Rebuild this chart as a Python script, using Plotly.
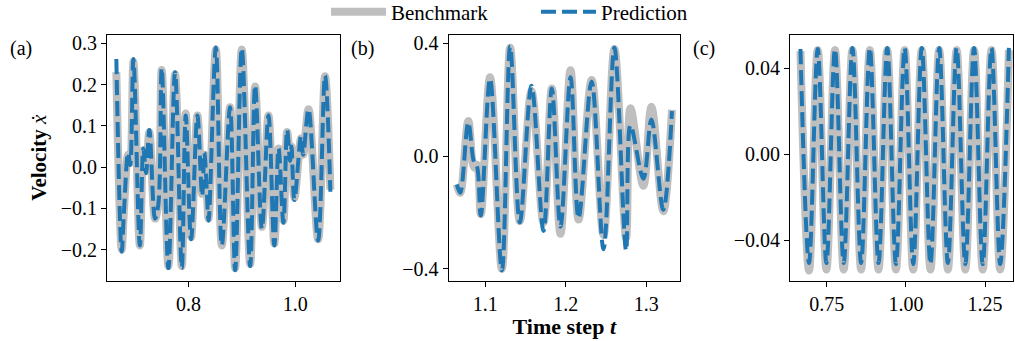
import plotly.graph_objects as go

# ---------------- data ----------------
# Panel (a)
t_a = [0.665, 0.675, 0.679, 0.687, 0.691, 0.697, 0.709, 0.7156, 0.7206, 0.7268,
       0.7375, 0.7437, 0.750, 0.7625, 0.775, 0.7876, 0.795, 0.805, 0.8169, 0.8257,
       0.830, 0.834, 0.8377, 0.8514, 0.8626, 0.878, 0.8876, 0.900, 0.9157, 0.925,
       0.9377, 0.950, 0.961, 0.969, 0.978, 0.985, 0.9906, 0.993, 0.9986, 1.011,
       1.015, 1.025, 1.043, 1.056, 1.066]
va_bench = [0.23, -0.20, -0.11, 0.03, 0.01, 0.255, -0.19, 0.04, -0.01, 0.085,
            -0.125, -0.085, 0.235, -0.24, 0.225, -0.24, 0.13, -0.17, 0.125, -0.065,
            0.03, -0.04, -0.125, 0.285, -0.19, 0.145, -0.245, 0.285, -0.235, 0.195,
            -0.145, 0.125, -0.185, 0.045, -0.13, 0.085, 0.02, 0.05, -0.075, 0.07,
            0.03, 0.14, -0.175, 0.22, -0.055]
va_pred = [0.262, -0.205, -0.115, 0.035, 0.005, 0.262, -0.19, 0.045, -0.015, 0.09,
           -0.125, -0.09, 0.24, -0.245, 0.23, -0.245, 0.125, -0.175, 0.125, -0.07,
           0.035, -0.045, -0.13, 0.29, -0.19, 0.145, -0.25, 0.288, -0.24, 0.198,
           -0.15, 0.125, -0.19, 0.045, -0.135, 0.09, 0.015, 0.05, -0.08, 0.075,
           0.03, 0.14, -0.178, 0.222, -0.06]

# Panel (b)
t_b = [1.0648, 1.069, 1.0790, 1.0860, 1.0897, 1.0945, 1.1060, 1.1207, 1.1310, 1.1430,
       1.1575, 1.1724, 1.1828, 1.1935, 1.2060, 1.2160, 1.2322, 1.2470, 1.2605, 1.2750,
       1.2805, 1.2965, 1.3065, 1.3212, 1.3320]
vb_bench = [-0.10, -0.13, 0.125, -0.04, -0.03, -0.205, 0.28, -0.40, 0.385, -0.23,
            0.23, -0.235, 0.24, -0.275, 0.305, -0.225, 0.27, -0.28, 0.38, -0.29,
            0.17, -0.105, 0.175, -0.195, 0.165]
vb_pred = [-0.10, -0.13, 0.12, -0.02, -0.035, -0.21, 0.275, -0.405, 0.39, -0.235,
           0.25, -0.265, 0.24, -0.25, 0.28, -0.22, 0.265, -0.33, 0.385, -0.335,
           0.11, -0.08, 0.13, -0.19, 0.16]

# Panel (c)
t_c = [0.667, 0.694, 0.7215, 0.749, 0.776, 0.8035, 0.831, 0.8585, 0.886, 0.9135,
       0.941, 0.9685, 0.996, 1.023, 1.050, 1.0775, 1.105, 1.1325, 1.160, 1.1875,
       1.215, 1.2425, 1.270, 1.2975, 1.325]
vc_bench = [0.048, -0.0540, 0.0485, -0.0535, 0.0485, -0.0535, 0.0485, -0.0535, 0.0485, -0.0535,
            0.0485, -0.0535, 0.0485, -0.0535, 0.0485, -0.0535, 0.0485, -0.0535, 0.0485, -0.0535,
            0.0485, -0.0535, 0.0485, -0.0535, 0.0485]
vc_pred = [0.049, -0.0505, 0.049, -0.0505, 0.049, -0.0505, 0.0495, -0.0505, 0.0495, -0.0505,
           0.0495, -0.051, 0.0495, -0.051, 0.0495, -0.051, 0.0495, -0.0505, 0.0495, -0.051,
           0.0495, -0.051, 0.0495, -0.051, 0.0495]

series = [(t_a, va_bench, va_pred), (t_b, vb_bench, vb_pred), (t_c, vc_bench, vc_pred)]

x_ranges = [[0.6475, 1.084], [1.0544, 1.342], [0.634, 1.338]]
y_ranges = [[-0.275, 0.32], [-0.441, 0.43], [-0.0586, 0.0555]]
x_ticks = [[0.8, 1.0], [1.1, 1.2, 1.3], [0.75, 1.00, 1.25]]
y_ticks = [[-0.2, -0.1, 0.0, 0.1, 0.2, 0.3], [-0.4, 0.0, 0.4], [-0.04, 0.0, 0.04]]
x_fmt = [".1f", ".1f", ".2f"]
y_fmt = [".1f", ".1f", ".2f"]
panel_labels = ["(a)", "(b)", "(c)"]

W, H = 1015, 341
x_doms = [[107 / W, 340 / W], [448.5 / W, 680 / W], [790 / W, 1013 / W]]
y_dom = [1 - 280.5 / H, 1 - 35 / H]

GREY = "#bfbfbf"
BLUE = "#1f77b4"
FONT = "Liberation Serif"

fig = go.Figure()
for i, (t, vb, vp) in enumerate(series):
    xa = "x" if i == 0 else f"x{i+1}"
    ya = "y" if i == 0 else f"y{i+1}"
    fig.add_trace(go.Scatter(x=t, y=vb, mode="lines", name="Benchmark",
                             line=dict(color=GREY, width=8, shape="spline", smoothing=1),
                             showlegend=(i == 0), xaxis=xa, yaxis=ya))
    fig.add_trace(go.Scatter(x=t, y=vp, mode="lines", name="Prediction",
                             line=dict(color=BLUE, width=4, dash="15px,6px",
                                       shape="spline", smoothing=1),
                             showlegend=(i == 0), xaxis=xa, yaxis=ya))

axis_common = dict(showline=True, linecolor="black", linewidth=1, mirror=True,
                   ticks="outside", ticklen=5, tickwidth=1, tickcolor="black",
                   showgrid=False, zeroline=False, automargin=False,
                   tickfont=dict(family=FONT, size=20, color="black"))

layout = dict(width=W, height=H, margin=dict(l=0, r=0, t=0, b=0, autoexpand=False),
              paper_bgcolor="white", plot_bgcolor="white",
              font=dict(family=FONT, size=20, color="black"))
for i in range(3):
    sx = "" if i == 0 else str(i + 1)
    xa = dict(axis_common, domain=x_doms[i], range=x_ranges[i], tickvals=x_ticks[i],
              tickformat=x_fmt[i], anchor="y" + sx)
    ya = dict(axis_common, domain=y_dom, range=y_ranges[i], tickvals=y_ticks[i],
              tickformat=y_fmt[i], anchor="x" + sx)
    if i == 1:
        xa["title"] = dict(text="<b>Time step <i>t</i></b>", standoff=3,
                           font=dict(family=FONT, size=22))
    if i == 0:
        ya["title"] = dict(text="<b>Velocity</b> <i>ẋ</i>", standoff=8,
                           font=dict(family=FONT, size=21))
    layout["xaxis" + sx] = xa
    layout["yaxis" + sx] = ya

layout["legend"] = dict(orientation="h", xref="container", yref="container",
                        x=326 / W, xanchor="left", y=1 - 12 / H, yanchor="middle",
                        bgcolor="rgba(0,0,0,0)", font=dict(family=FONT, size=21),
                        itemwidth=55, entrywidth=140)

label_x = [8 / W, 349 / W, 691 / W]
layout["annotations"] = [dict(text=panel_labels[i], x=label_x[i], y=1 - 49 / H,
                              xref="paper", yref="paper", xanchor="left",
                              yanchor="middle", showarrow=False,
                              font=dict(family=FONT, size=20))
                         for i in range(3)]

fig.update_layout(**layout)
fig.write_html("out.html", config={"displayModeBar": False},
               post_script="document.body.style.margin='0';document.body.style.overflow='hidden';")
